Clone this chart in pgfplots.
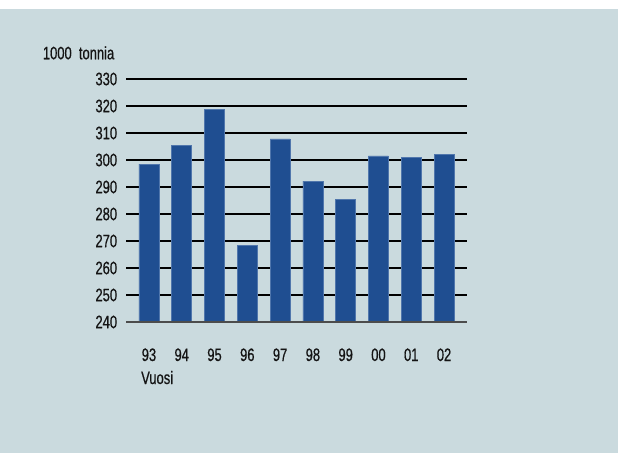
\documentclass[border=0pt]{standalone}
\usepackage{fontspec}
\setmainfont{Liberation Sans}[FakeStretch=0.72,FakeBold=0.6]
\usepackage{pgfplots}
\pgfplotsset{compat=1.18}
\definecolor{bg}{RGB}{202,218,222}
\definecolor{barblue}{RGB}{31,78,145}
\definecolor{baredge}{RGB}{80,118,172}
\definecolor{txt}{RGB}{20,20,20}
\begin{document}
\begin{tikzpicture}[x=1pt,y=1pt]
\useasboundingbox (0,0) rectangle (618,453);
\fill[bg] (0,0) rectangle (618,444);
\begin{axis}[
  at={(126pt,131pt)}, anchor=south west,
  scale only axis, width=341pt, height=243pt,
  xmin=-0.7, xmax=9.7, ymin=240, ymax=330,
  ytick={240,250,...,330},
  xtick={0,...,9},
  xticklabels={93,94,95,96,97,98,99,00,01,02},
  ymajorgrids, grid style={black, line width=1.1pt},
  axis line style={draw=none},
  tick style={draw=none},
  /pgf/number format/assume math mode=true,
  /pgf/number format/.cd, 1000 sep={}, /pgfplots/.cd,
  ticklabel style={font=\fontsize{18}{21}\selectfont, text=txt, inner sep=0pt},
  yticklabel style={anchor=east, xshift=-8.7pt},
  xticklabel style={anchor=base, yshift=-39pt},
  clip=false,
]
\addplot[ybar, bar width=20pt, fill=barblue, draw=baredge, line width=0.6pt]
  coordinates {(0,298.5) (1,305.4) (2,318.8) (3,268.4) (4,307.8) (5,292.2) (6,285.3) (7,301.5) (8,301.1) (9,302.1)};
\draw[black!70, line width=1.8pt] (axis cs:-0.7,240) -- (axis cs:9.7,240);
\end{axis}
\node[anchor=base west, inner sep=0pt, text=txt, font=\fontsize{18}{21}\selectfont] at (42.7,393.7) {1000\ \ tonnia};
\node[anchor=base west, inner sep=0pt, text=txt, font=\fontsize{18}{21}\selectfont] at (141,69) {Vuosi};
\end{tikzpicture}
\end{document}
